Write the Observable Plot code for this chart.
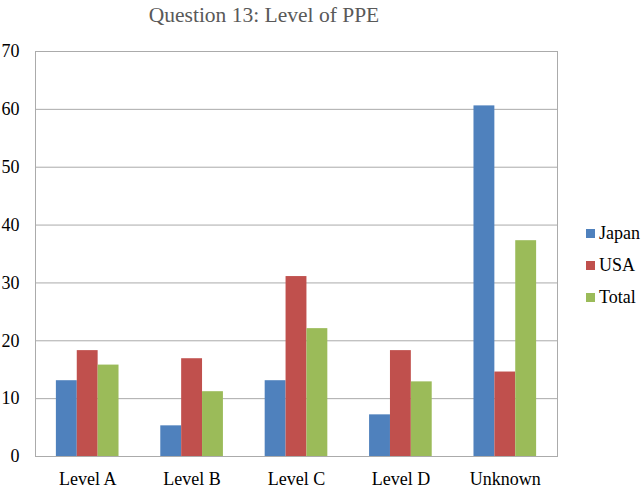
<!DOCTYPE html>
<html>
<head>
<meta charset="utf-8">
<script src="https://cdn.jsdelivr.net/npm/d3@7"></script>
<script src="https://cdn.jsdelivr.net/npm/@observablehq/plot@0.6"></script>
<style>
  html, body { margin: 0; padding: 0; background: #fff; }
  #wrap { position: relative; width: 642px; height: 490px; font-family: "Liberation Serif", "Times New Roman", serif; }
  #title { position: absolute; top: 3px; left: 0; width: 528px; text-align: center; font-size: 21.5px; color: #595959; }
  #legend { position: absolute; left: 586px; top: 217px; font-size: 18px; color: #000; }
  .item { display: flex; align-items: center; height: 32px; }
  .sw { width: 9px; height: 9px; margin-right: 4px; }
</style>
</head>
<body>
<div id="wrap">
  <div id="title">Question 13: Level of PPE</div>
  <div id="legend"></div>
</div>
<script>
const categories = ["Level A", "Level B", "Level C", "Level D", "Unknown"];
const series = ["Japan", "USA", "Total"];
const japan = [13.1, 5.3, 13.1, 7.2, 60.6];
const usa = [18.3, 16.9, 31.1, 18.3, 14.6];
const total = [15.8, 11.2, 22.1, 12.9, 37.3];
const yTicks = [0, 10, 20, 30, 40, 50, 60, 70];
const colors = ["#4F81BD", "#C0504D", "#9BBB59"];

const seriesValues = [japan, usa, total];
const data = categories.flatMap((c, i) =>
  series.map((s, j) => ({ category: c, series: s, value: seriesValues[j][i], key: c + "|" + s }))
);
const xDomain = categories.flatMap(c => [c + "|_a", c + "|Japan", c + "|USA", c + "|Total", c + "|_b"]);

const chart = Plot.plot({
  width: 642,
  height: 490,
  marginLeft: 35,
  marginRight: 85,
  marginTop: 51,
  marginBottom: 34,
  style: { fontFamily: "Liberation Serif, Times New Roman, serif", fontSize: "18px", color: "#000", background: "transparent" },
  x: {
    domain: xDomain,
    padding: 0,
    round: false,
    label: null,
    tickSize: 0,
    tickPadding: 16,
    tickFormat: d => d.endsWith("|USA") ? d.split("|")[0] : ""
  },
  y: {
    domain: [0, 70],
    ticks: yTicks,
    label: null,
    tickSize: 0,
    tickPadding: 16
  },
  color: { domain: series, range: colors },
  marks: [
    Plot.ruleY(yTicks, { stroke: "#ababab", strokeWidth: 1 }),
    Plot.frame({ stroke: "#ababab" }),
    Plot.barY(data, { x: "key", y: "value", fill: "series" })
  ]
});
chart.style.position = "absolute";
chart.style.left = "0";
chart.style.top = "0";
document.getElementById("wrap").prepend(chart);

const legend = document.getElementById("legend");
series.forEach((s, i) => {
  const item = document.createElement("div");
  item.className = "item";
  const sw = document.createElement("div");
  sw.className = "sw";
  sw.style.background = colors[i];
  const t = document.createElement("span");
  t.textContent = s;
  item.appendChild(sw);
  item.appendChild(t);
  legend.appendChild(item);
});
</script>
</body>
</html>
